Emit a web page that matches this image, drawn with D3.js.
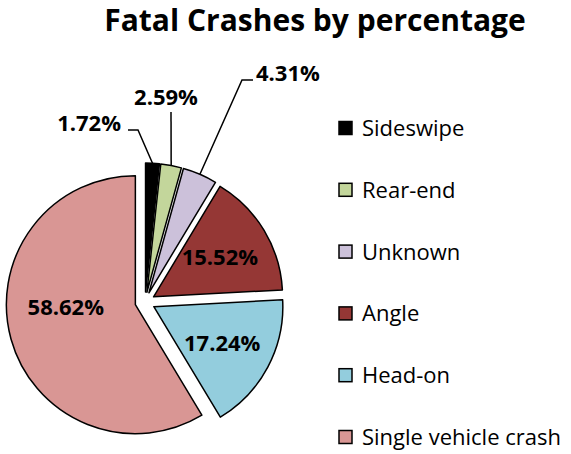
<!DOCTYPE html>
<html>
<head>
<meta charset="utf-8">
<script src="https://cdn.jsdelivr.net/npm/d3@7"></script>
<style>
  body { margin: 0; background: #fff; }
  text { font-family: "Open Sans", Lato, sans-serif; }
</style>
</head>
<body>
<script>
// chart data
const categories = ["Sideswipe", "Rear-end", "Unknown", "Angle", "Head-on", "Single vehicle crash"];
const percents = [1.72, 2.59, 4.31, 15.52, 17.24, 58.62];
const colors = ["#000000", "#c3d69b", "#ccc1da", "#953735", "#93cddd", "#d99694"];
const outsideLabel = [true, true, true, false, false, false];

let width = 571,
    height = 454;

const radius = 129,
    explode = 10,
    cx = 145,
    cy = 302;

const svg = d3.select('body').append('svg')
    .attr('width', width)
    .attr('height', height);

//title
svg.append('text')
    .text('Fatal Crashes by percentage')
    .attr('x', 315)
    .attr('y', 31)
    .attr('text-anchor', 'middle')
    .style('font-weight', 'bold')
    .style('font-size', '30px');

const pie = d3.pie().sort(null).value(d => d.value);
const arc = d3.arc().innerRadius(0).outerRadius(radius);

const slices = pie(categories.map((c, i) => ({ name: c, value: percents[i], i: i })));

const midAngle = d => (d.startAngle + d.endAngle) / 2;

//point at distance r from the exploded slice's vertex
function shift(d, r) {
    const a = midAngle(d);
    return [cx + (explode + r) * Math.sin(a), cy - (explode + r) * Math.cos(a)];
}

const g = svg.append('g');

g.selectAll('path')
    .data(slices)
    .enter()
    .append('path')
    .attr('d', arc)
    .attr('transform', d => `translate(${shift(d, 0)})`)
    .attr('fill', d => colors[d.data.i])
    .attr('stroke', '#000')
    .attr('stroke-width', 1.5)
    .attr('stroke-linejoin', 'round');

//inside labels
const nudge = { 5: [5, -18] };
g.selectAll('text.inner')
    .data(slices.filter(d => !outsideLabel[d.data.i]))
    .enter()
    .append('text')
    .attr('class', 'inner')
    .attr('x', d => shift(d, radius * 0.6)[0] + (nudge[d.data.i] || [0, 0])[0])
    .attr('y', d => shift(d, radius * 0.6)[1] + (nudge[d.data.i] || [0, 0])[1])
    .attr('dy', '0.36em')
    .attr('text-anchor', 'middle')
    .style('font-weight', 'bold')
    .style('font-size', '22px')
    .text(d => d3.format('.2f')(d.data.value) + '%');

//callouts: elbow point, end of line, text anchor point
const callouts = {
    0: { elbow: [138, 130], end: [128, 130], text: [121, 123], anchor: 'end' },
    1: { elbow: [171, 112], end: [171, 112], text: [166, 97], anchor: 'middle' },
    2: { elbow: [242, 80], end: [253, 80], text: [256, 73], anchor: 'start' }
};

slices.filter(d => outsideLabel[d.data.i]).forEach(d => {
    const c = callouts[d.data.i];
    //start on the outer edge of the exploded slice, at its middle
    const start = shift(d, radius);
    svg.append('polyline')
        .attr('points', [start, c.elbow, c.end].map(q => q.join(',')).join(' '))
        .attr('fill', 'none')
        .attr('stroke', '#000')
        .attr('stroke-width', 1.5);
    svg.append('text')
        .attr('x', c.text[0])
        .attr('y', c.text[1])
        .attr('dy', '0.36em')
        .attr('text-anchor', c.anchor)
        .style('font-weight', 'bold')
        .style('font-size', '22px')
        .text(d3.format('.2f')(d.data.value) + '%');
});

//legend
const legend = svg.append('g')
    .selectAll('g')
    .data(categories)
    .enter()
    .append('g')
    .attr('transform', (d, i) => `translate(339, ${128 + i * 61.8})`);

legend.append('rect')
    .attr('x', 0)
    .attr('y', -6.5)
    .attr('width', 13)
    .attr('height', 13)
    .attr('fill', (d, i) => colors[i])
    .attr('stroke', '#000')
    .attr('stroke-width', 1.5);

legend.append('text')
    .attr('x', 23)
    .attr('dy', '0.36em')
    .style('font-size', '22px')
    .text(d => d);
</script>
</body>
</html>
